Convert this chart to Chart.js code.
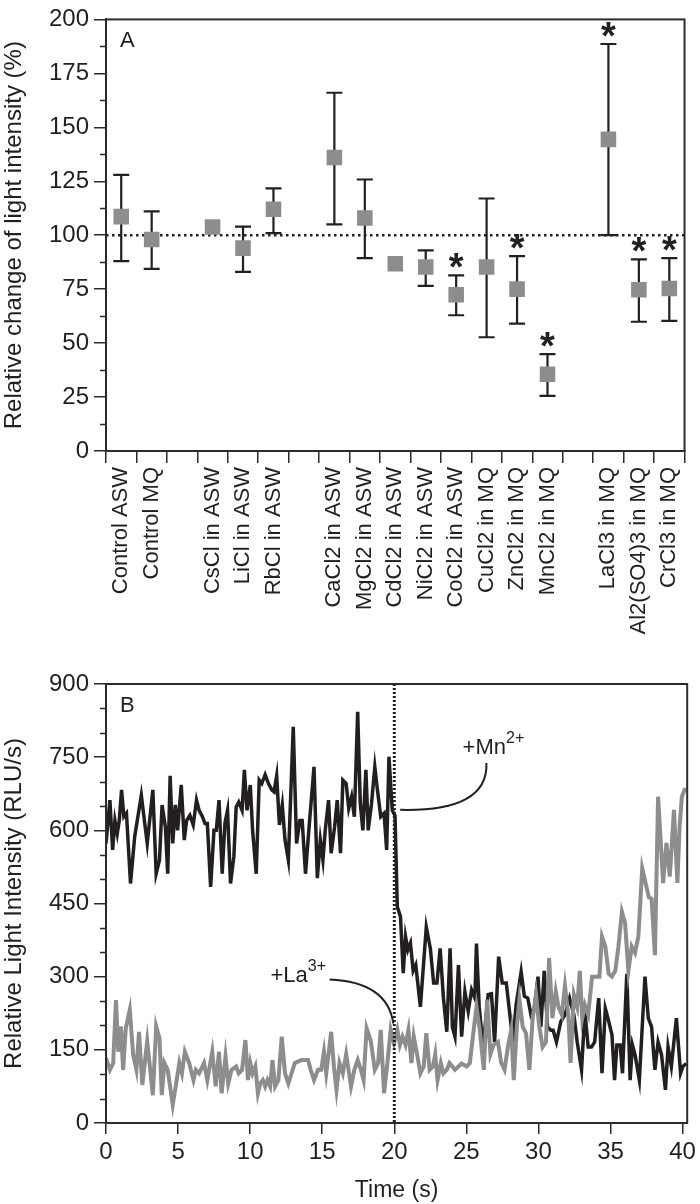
<!DOCTYPE html>
<html>
<head>
<meta charset="utf-8">
<script src="https://cdn.jsdelivr.net/npm/chart.js@4.4.1/dist/chart.umd.min.js"></script>
<style>
  body { margin: 0; background: #fff; }
  #wrap { position: relative; width: 700px; height: 1204px; }
  canvas { position: absolute; left: 0; }
  #chartA { top: 0; }
  #chartB { top: 650px; }
</style>
</head>
<body>
<div id="wrap">
  <canvas id="chartA" width="700" height="650"></canvas>
  <canvas id="chartB" width="700" height="554"></canvas>
</div>
<script>
// ---- panel A : relative change of light intensity ----
const categories = ['Control ASW', 'Control MQ', '', 'CsCl in ASW', 'LiCl in ASW', 'RbCl in ASW', '',
  'CaCl2 in ASW', 'MgCl2 in ASW', 'CdCl2 in ASW', 'NiCl2 in ASW', 'CoCl2 in ASW', 'CuCl2 in MQ',
  'ZnCl2 in MQ', 'MnCl2 in MQ', '', 'LaCl3 in MQ', 'Al2(SO4)3 in MQ', 'CrCl3 in MQ'];
const means   = [108.6, 98, null, 103.8, 94, 112, null, 136, 108, 86.8, 85.3, 72.4, 85.3, 75, 35.6, null, 144.4, 74.7, 75.3];
const errHigh = [128, 111, null, null, 104, 121.7, null, 166, 125.8, null, 93, 81.4, 117, 90.3, 44.9, null, 188.6, 88.8, 89.4];
const errLow  = [88, 84.4, null, null, 83, 101, null, 105, 89.4, null, 76.5, 62.9, 52.7, 59, 25.5, null, 100, 59.9, 60.3];
const significant = [false, false, false, false, false, false, false, false, false, false, false, true, false, true, true, false, true, true, true];
const baseline = 100;
const yTicksA = [0, 200, 25];

// ---- panel B : light intensity traces (RLU/s) ----
const mnTime = [0.00,0.27,0.46,0.62,0.78,0.92,1.08,1.24,1.42,1.70,
  1.99,2.45,2.86,3.25,3.48,3.71,3.89,4.12,4.28,4.45,
  4.63,4.81,4.97,5.22,5.43,5.59,5.82,6.05,6.28,6.46,
  6.69,6.87,7.03,7.26,7.49,7.65,7.84,8.06,8.25,8.43,
  8.64,8.87,9.03,9.21,9.44,9.60,9.78,10.01,10.17,10.42,
  10.63,10.81,11.04,11.27,11.50,11.66,11.84,12.03,12.23,12.42,
  12.65,12.99,13.22,13.45,13.61,13.84,14.07,14.43,14.66,14.87,
  15.05,15.21,15.44,15.62,15.86,16.04,16.27,16.43,16.66,16.84,
  17.04,17.23,17.46,17.64,17.82,18.03,18.19,18.42,18.65,18.83,
  19.06,19.29,19.47,19.63,19.86,20.05,20.21,20.43,20.62,20.78,
  20.94,21.12,21.31,21.49,21.81,22.22,22.50,22.73,22.96,23.18,
  23.41,23.64,23.87,24.03,24.21,24.45,24.67,24.90,25.13,25.36,
  25.59,25.70,25.89,26.16,26.51,26.74,26.96,27.24,27.49,27.77,
  27.99,28.23,28.45,28.80,29.02,29.26,29.48,29.71,29.97,30.17,
  30.40,30.63,30.86,31.02,31.25,31.55,31.84,32.16,32.46,32.69,
  32.99,33.22,33.45,33.68,33.90,34.18,34.41,34.64,34.82,35.10,
  35.28,35.44,35.67,35.83,36.13,36.36,36.52,36.70,37.00,37.39,
  37.62,37.85,38.08,38.30,38.54,38.81,38.99,39.22,39.57,39.86,
  40.02,40.25];
const mnRLU = [573,662,560,620,593,620,683,628,635,491,
  587,672,573,683,511,539,652,607,511,712,
  573,652,600,693,580,620,631,611,662,641,
  628,614,614,484,600,600,662,511,614,641,
  491,546,648,658,641,724,641,693,600,511,
  703,696,714,696,683,679,712,611,652,580,
  539,812,573,620,620,511,600,730,502,580,
  539,600,662,553,607,662,553,703,696,645,
  669,628,843,655,600,724,600,655,730,683,
  628,635,560,751,641,630,443,423,307,382,
  355,369,312,324,238,402,358,287,287,358,
  256,187,358,197,177,324,177,269,229,273,
  256,368,238,156,263,265,166,341,287,287,
  229,166,242,310,260,256,222,235,300,197,
  312,197,190,190,166,208,222,256,222,166,
  109,229,156,156,166,256,102,235,215,181,
  88,160,160,102,306,88,160,140,88,300,
  215,197,109,166,140,68,156,116,215,102,
  116,122];

const laTime = [0.00,0.27,0.50,0.69,0.85,1.03,1.19,1.37,1.65,1.88,
  2.11,2.29,2.52,2.86,3.25,3.48,3.71,3.87,4.05,4.28,
  4.63,5.09,5.27,5.47,5.77,6.07,6.23,6.46,6.80,7.03,
  7.37,7.61,7.84,8.02,8.29,8.48,8.71,9.03,9.21,9.44,
  9.67,9.85,10.01,10.17,10.36,10.54,10.70,10.88,11.04,11.20,
  11.39,11.55,11.73,11.96,12.19,12.42,12.65,13.10,13.56,14.02,
  14.20,14.43,14.71,14.93,15.12,15.28,15.44,15.62,15.81,15.99,
  16.20,16.43,16.66,17.00,17.23,17.46,17.68,17.87,18.08,18.37,
  18.65,18.88,19.06,19.29,19.52,19.75,19.98,20.21,20.39,20.57,
  20.78,20.98,21.19,21.35,21.58,21.81,22.04,22.22,22.45,22.68,
  22.84,23.00,23.23,23.41,23.64,23.83,24.03,24.21,24.45,24.67,
  25.02,25.24,25.48,25.70,25.93,26.21,26.44,26.67,26.89,27.19,
  27.42,27.65,27.88,28.11,28.29,28.50,28.68,28.91,29.14,29.37,
  29.60,29.83,30.06,30.29,30.52,30.74,30.97,31.20,31.39,31.62,
  31.84,32.07,32.23,32.46,32.69,32.87,33.04,33.22,33.45,33.72,
  34.00,34.23,34.41,34.64,34.87,35.10,35.33,35.55,35.79,36.01,
  36.24,36.47,36.70,36.93,37.20,37.43,37.66,37.85,38.08,38.30,
  38.65,38.88,39.11,39.40,39.64,39.79,39.95,40.14,40.25];
const laRLU = [133,109,123,252,146,198,109,194,232,141,
  109,187,78,168,57,198,174,57,123,109,
  37,123,102,146,123,88,109,102,123,88,
  146,75,146,61,136,81,109,116,102,109,
  170,88,123,102,116,61,81,88,75,88,
  75,129,75,88,177,102,81,123,129,129,
  109,88,109,109,146,102,141,187,116,68,
  123,102,141,75,109,129,109,88,194,168,
  109,123,191,61,123,191,164,191,160,177,
  160,191,123,177,141,102,116,184,109,116,
  141,88,123,102,109,123,116,109,116,122,
  116,123,184,238,191,109,253,141,160,166,
  123,109,156,191,88,197,253,197,184,109,
  215,263,197,156,166,338,215,270,238,222,
  281,222,123,263,238,312,215,242,222,300,
  300,300,382,362,306,300,312,362,433,410,
  312,362,349,382,522,492,463,460,344,669,
  492,574,505,642,492,607,669,683,683];
const additionTime = 20;
const xTicksB = [0, 40.32, 5];
const yTicksB = [0, 900, 150];

const ink = '#231f20';
const axisColor = '#2b2b2b';
const markerGray = '#8d8d8f';
const fontFamily = '"Liberation Sans", Arial, Helvetica, sans-serif';

Chart.defaults.font.family = fontFamily;
Chart.defaults.color = ink;

// full box round the plot, short minor ticks and panel letter
const framePlugin = {
  id: 'frame',
  afterDraw(chart, args, opts) {
    const { ctx, chartArea: a, scales: { y } } = chart;
    ctx.save();
    ctx.strokeStyle = axisColor;
    ctx.lineWidth = 2;
    ctx.strokeRect(a.left, a.top, a.right - a.left, a.bottom - a.top);
    ctx.beginPath();
    y.ticks.forEach(t => {
      if (t.value % opts.labelStep !== 0) {
        const py = Math.round(y.getPixelForValue(t.value)) + 0.5;
        ctx.moveTo(a.left - 6, py);
        ctx.lineTo(a.left, py);
      }
    });
    ctx.lineWidth = 1.5;
    ctx.stroke();
    ctx.fillStyle = ink;
    ctx.font = '22px ' + fontFamily;
    ctx.textBaseline = 'alphabetic';
    ctx.fillText(opts.letter, a.left + 14, a.top + 28);
    ctx.restore();
  }
};

// error bars, reference line and significance stars for panel A
const errorBarPlugin = {
  id: 'errorBars',
  beforeDatasetsDraw(chart) {
    const { ctx, chartArea: a, scales: { x, y } } = chart;
    ctx.save();
    const yb = y.getPixelForValue(baseline);
    ctx.strokeStyle = ink;
    ctx.lineWidth = 2.5;
    ctx.setLineDash([2.5, 3.5]);
    ctx.beginPath();
    ctx.moveTo(a.left, yb);
    ctx.lineTo(a.right, yb);
    ctx.stroke();
    ctx.setLineDash([]);
    ctx.lineWidth = 2.2;
    means.forEach((m, i) => {
      if (errHigh[i] == null) return;
      const px = x.getPixelForValue(i);
      const top = y.getPixelForValue(errHigh[i]);
      const bot = y.getPixelForValue(errLow[i]);
      ctx.beginPath();
      ctx.moveTo(px, top); ctx.lineTo(px, bot);
      ctx.moveTo(px - 8, top); ctx.lineTo(px + 8, top);
      ctx.moveTo(px - 8, bot); ctx.lineTo(px + 8, bot);
      ctx.stroke();
    });
    ctx.restore();
  },
  afterDatasetsDraw(chart) {
    const { ctx, scales: { x, y } } = chart;
    ctx.save();
    ctx.fillStyle = ink;
    ctx.font = 'bold 38px ' + fontFamily;
    ctx.textAlign = 'center';
    ctx.textBaseline = 'alphabetic';
    significant.forEach((s, i) => {
      if (!s) return;
      const top = y.getPixelForValue(errHigh[i] != null ? errHigh[i] : means[i]);
      ctx.fillText('*', x.getPixelForValue(i), top + 5);
    });
    ctx.restore();
  }
};

// addition marker and ion labels for panel B
function ionLabel(ctx, text, sup, px, py) {
  ctx.font = '22px ' + fontFamily;
  ctx.fillText(text, px, py);
  const w = ctx.measureText(text).width;
  ctx.font = '16px ' + fontFamily;
  ctx.fillText(sup, px + w, py - 11);
}

const additionPlugin = {
  id: 'addition',
  afterDatasetsDraw(chart) {
    const { ctx, chartArea: a, scales: { x, y } } = chart;
    const P = (t, v) => [x.getPixelForValue(t), y.getPixelForValue(v)];
    ctx.save();
    const px = x.getPixelForValue(additionTime);
    ctx.strokeStyle = ink;
    ctx.lineWidth = 3;
    ctx.setLineDash([2, 2]);
    ctx.beginPath();
    ctx.moveTo(px, a.top);
    ctx.lineTo(px, a.bottom);
    ctx.stroke();
    ctx.setLineDash([]);

    ctx.lineWidth = 2;
    let s = P(20.41, 642), c = P(26.53, 638), e = P(26.39, 738);
    ctx.beginPath();
    ctx.moveTo(s[0], s[1]);
    ctx.quadraticCurveTo(c[0], c[1], e[0], e[1]);
    ctx.stroke();
    s = P(15.51, 294); c = P(19.52, 289); e = P(19.93, 204);
    ctx.beginPath();
    ctx.moveTo(s[0], s[1]);
    ctx.quadraticCurveTo(c[0], c[1], e[0], e[1]);
    ctx.stroke();

    ctx.fillStyle = ink;
    ctx.textBaseline = 'alphabetic';
    let l = P(24.74, 756);
    ionLabel(ctx, '+Mn', '2+', l[0], l[1]);
    l = P(11.41, 289);
    ionLabel(ctx, '+La', '3+', l[0], l[1]);
    ctx.restore();
  }
};

const tickFont = { size: 24 };
const catFont = { size: 22 };
const titleFont = { size: 24 };

new Chart(document.getElementById('chartA'), {
  type: 'line',
  data: {
    labels: categories,
    datasets: [{
      data: means,
      showLine: false,
      pointStyle: 'rect',
      pointRadius: 11,
      pointHoverRadius: 11,
      pointBackgroundColor: markerGray,
      pointBorderWidth: 0
    }]
  },
  options: {
    responsive: false,
    animation: false,
    layout: { padding: { top: 11, right: 8, left: 0, bottom: 0 } },
    plugins: {
      legend: { display: false },
      tooltip: { enabled: false },
      frame: { letter: 'A', labelStep: yTicksA[2] }
    },
    scales: {
      x: {
        type: 'category',
        offset: true,
        afterFit(scale) { scale.height = 199; },
        grid: { offset: true, drawOnChartArea: false, tickLength: 12, lineWidth: 1.5, color: axisColor },
        border: { display: true, color: axisColor, width: 2 },
        ticks: { autoSkip: false, minRotation: 90, maxRotation: 90, padding: 4, font: catFont, color: ink }
      },
      y: {
        min: yTicksA[0],
        max: yTicksA[1],
        afterFit(scale) { scale.width = 106; },
        grid: {
          drawOnChartArea: false, tickLength: 12, lineWidth: 1.5,
          tickColor: c => (c.tick && c.tick.value % yTicksA[2] !== 0) ? 'rgba(0,0,0,0)' : axisColor
        },
        border: { display: true, color: axisColor, width: 2 },
        ticks: {
          stepSize: yTicksA[2] / 2,
          autoSkip: false,
          padding: 5,
          font: tickFont,
          color: ink,
          callback: v => (v % yTicksA[2] === 0 ? v : '')
        },
        title: { display: true, text: 'Relative change of light intensity (%)', font: titleFont, color: ink, padding: 0 }
      }
    }
  },
  plugins: [errorBarPlugin, framePlugin]
});

new Chart(document.getElementById('chartB'), {
  type: 'line',
  data: {
    datasets: [
      {
        label: 'La3+',
        data: laTime.map((t, i) => ({ x: t, y: laRLU[i] })),
        borderColor: markerGray,
        borderWidth: 4,
        pointRadius: 0,
        tension: 0
      },
      {
        label: 'Mn2+',
        data: mnTime.map((t, i) => ({ x: t, y: mnRLU[i] })),
        borderColor: ink,
        borderWidth: 3.5,
        pointRadius: 0,
        tension: 0
      }
    ]
  },
  options: {
    responsive: false,
    animation: false,
    layout: { padding: { top: 34, right: 8, left: 0, bottom: 0 } },
    plugins: {
      legend: { display: false },
      tooltip: { enabled: false },
      frame: { letter: 'B', labelStep: yTicksB[2] }
    },
    scales: {
      x: {
        type: 'linear',
        min: xTicksB[0],
        max: xTicksB[1],
        afterFit(scale) { scale.height = 81; },
        grid: { drawOnChartArea: false, tickLength: 11, lineWidth: 1.5, color: axisColor },
        border: { display: true, color: axisColor, width: 2 },
        ticks: { stepSize: xTicksB[2], includeBounds: false, padding: 4, font: tickFont, color: ink },
        title: { display: true, text: 'Time (s)', font: { size: 23 }, color: ink, padding: 0 }
      },
      y: {
        min: yTicksB[0],
        max: yTicksB[1],
        afterFit(scale) { scale.width = 106; },
        grid: {
          drawOnChartArea: false, tickLength: 12, lineWidth: 1.5,
          tickColor: c => (c.tick && c.tick.value % yTicksB[2] !== 0) ? 'rgba(0,0,0,0)' : axisColor
        },
        border: { display: true, color: axisColor, width: 2 },
        ticks: {
          stepSize: 50,
          autoSkip: false,
          padding: 5,
          font: tickFont,
          color: ink,
          callback: v => (v % yTicksB[2] === 0 ? v : '')
        },
        title: { display: true, text: 'Relative Light Intensity (RLU/s)', font: titleFont, color: ink, padding: 0 }
      }
    }
  },
  plugins: [additionPlugin, framePlugin]
});
</script>
</body>
</html>
